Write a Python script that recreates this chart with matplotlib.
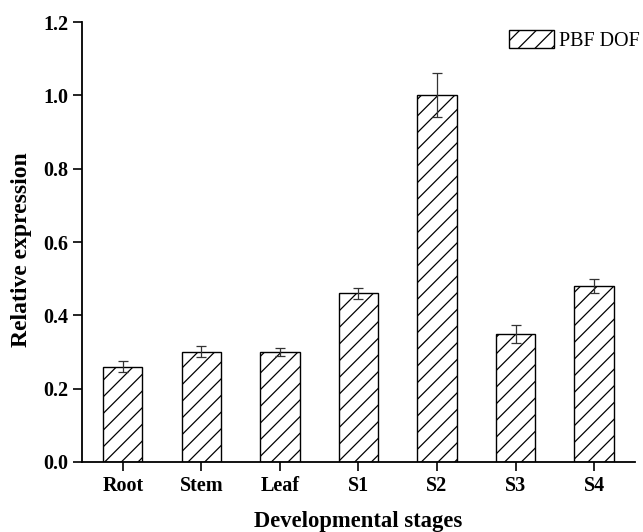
import numpy as np
import matplotlib
matplotlib.use('Agg')
import matplotlib.pyplot as plt

# values
stages = ['Root', 'Stem', 'Leaf', 'S1', 'S2', 'S3', 'S4']
expression = [0.26, 0.30, 0.30, 0.46, 1.00, 0.35, 0.48]
errors = [0.015, 0.015, 0.01, 0.015, 0.06, 0.025, 0.02]
yticks = [0.0, 0.2, 0.4, 0.6, 0.8, 1.0, 1.2]

plt.rcParams['font.family'] = ['Liberation Serif', 'DejaVu Serif']
plt.rcParams['hatch.linewidth'] = 0.9

fig = plt.figure(figsize=(6.43, 5.32), dpi=100)
ax = fig.add_axes([0.1275, 0.1316, 0.86, 0.827])

x = np.arange(len(stages))
ax.bar(x, expression, width=0.5, color='white', edgecolor='black', linewidth=1.0,
       hatch='//', label='PBF DOF')
ax.errorbar(x, expression, yerr=errors, fmt='none', ecolor='#333333', elinewidth=0.9,
            capsize=3.3, capthick=0.9)

ax.set_xlim(-0.52, 6.52)
ax.set_ylim(0, 1.2)
ax.set_xticks(x)
ax.set_xticklabels(stages, fontsize=14.5, fontweight='bold')
ax.set_yticks(yticks)
ax.set_yticklabels(['%.1f' % v for v in yticks], fontsize=14.5, fontweight='bold')
ax.tick_params(direction='out', length=6.5, width=1.2, pad=3.5)

ax.spines['top'].set_visible(False)
ax.spines['right'].set_visible(False)
ax.spines['left'].set_linewidth(1.3)
ax.spines['bottom'].set_linewidth(1.3)

ax.set_xlabel('Developmental stages', fontsize=16.3, fontweight='bold', labelpad=11)
ax.set_ylabel('Relative expression', fontsize=17, fontweight='bold')
ax.yaxis.set_label_coords(-0.091, 0.482)

ax.legend(loc='upper right', bbox_to_anchor=(1.03, 1.01), frameon=False, fontsize=14.5,
          handlelength=2.2, handleheight=1.0, handletextpad=0.25, borderaxespad=0.2)

fig.savefig('out.png', dpi=100)
